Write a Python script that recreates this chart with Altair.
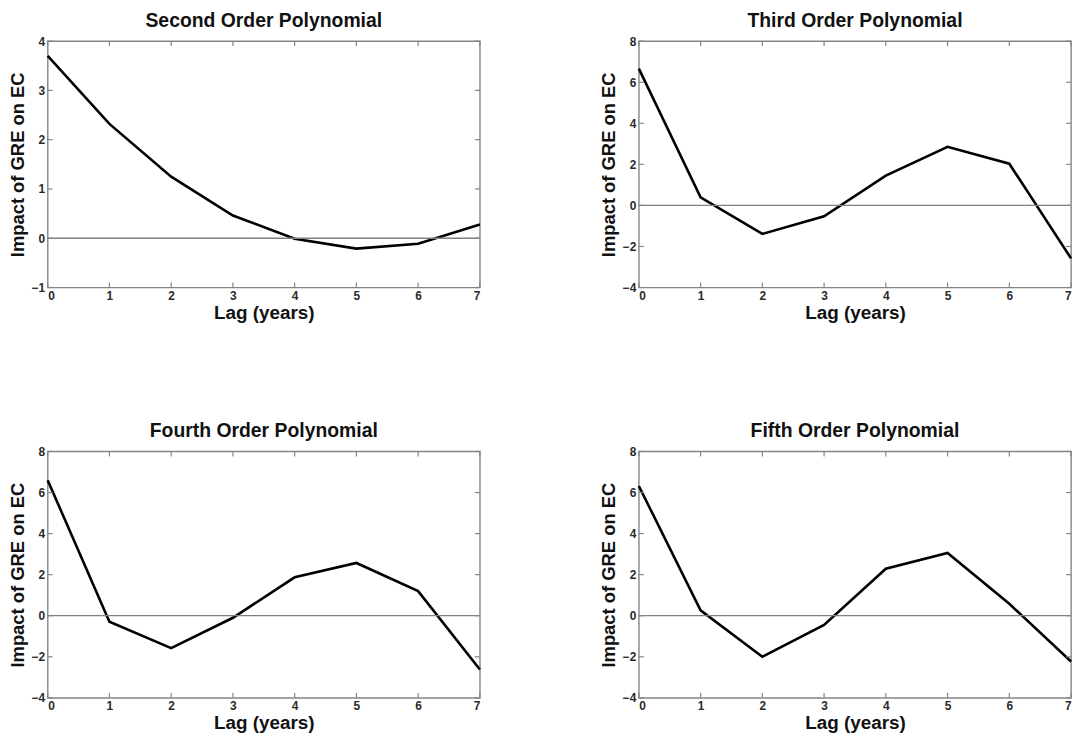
import altair as alt
import pandas as pd

# Lag in years (x) and estimated impact of GRE on EC for each polynomial order
lags = [0, 1, 2, 3, 4, 5, 6, 7]
second_order = [3.70, 2.32, 1.25, 0.46, -0.01, -0.21, -0.11, 0.28]
third_order = [6.66, 0.39, -1.39, -0.53, 1.45, 2.85, 2.03, -2.58]
fourth_order = [6.60, -0.29, -1.58, -0.10, 1.87, 2.57, 1.20, -2.62]
fifth_order = [6.32, 0.26, -2.00, -0.45, 2.29, 3.06, 0.58, -2.23]

titles = ["Second Order Polynomial", "Third Order Polynomial",
          "Fourth Order Polynomial", "Fifth Order Polynomial"]
y_domains = [[-1, 4], [-4, 8], [-4, 8], [-4, 8]]
y_ticks = [[-1, 0, 1, 2, 3, 4], [-4, -2, 0, 2, 4, 6, 8],
           [-4, -2, 0, 2, 4, 6, 8], [-4, -2, 0, 2, 4, 6, 8]]

W, H = 435, 248
FONT = "Liberation Sans"
TICK_LEN = 5
FRAME_COLOR = "#858585"


def panel(values, title, ydom, yt, flush):
    df = pd.DataFrame({"lag": lags, "impact": values})
    x_axis = alt.Axis(values=lags, title="Lag (years)", format="d")
    if flush:
        # keep the last lag label inside the right edge of the page
        x_axis = alt.Axis(values=lags, title="Lag (years)", format="d", labelFlush=True)
    x_enc = alt.X("lag:Q", scale=alt.Scale(domain=[0, 7], nice=False, zero=False),
                  axis=x_axis)
    y_enc = alt.Y("impact:Q", scale=alt.Scale(domain=ydom, nice=False, zero=False),
                  axis=alt.Axis(values=yt, title="Impact of GRE on EC", format="d"))

    line = alt.Chart(df).mark_line(color="black", strokeWidth=2.6).encode(
        x=x_enc, y=y_enc)

    zero = alt.Chart(pd.DataFrame({"impact": [0]})).mark_rule(
        color="#808080", strokeWidth=1.3
    ).encode(y=y_enc)

    # inward-pointing tick marks on all four sides of the box
    xt = pd.DataFrame({"lag": lags})
    ytd = pd.DataFrame({"impact": yt})
    bottom = alt.Chart(xt).mark_rule(color=FRAME_COLOR, strokeWidth=1.2).encode(
        x=x_enc, y=alt.value(H), y2=alt.value(H - TICK_LEN))
    top = alt.Chart(xt).mark_rule(color=FRAME_COLOR, strokeWidth=1.2).encode(
        x=x_enc, y=alt.value(0), y2=alt.value(TICK_LEN))
    left = alt.Chart(ytd).mark_rule(color=FRAME_COLOR, strokeWidth=1.2).encode(
        y=y_enc, x=alt.value(0), x2=alt.value(TICK_LEN))
    right = alt.Chart(ytd).mark_rule(color=FRAME_COLOR, strokeWidth=1.2).encode(
        y=y_enc, x=alt.value(W), x2=alt.value(W - TICK_LEN))

    return alt.layer(line, zero, bottom, top, left, right).properties(
        width=W, height=H,
        title=alt.TitleParams(title, fontSize=19.5, font=FONT, fontWeight="bold",
                              color="#111111", offset=4, anchor="middle"),
    )


series = [second_order, third_order, fourth_order, fifth_order]
panels = [panel(series[i], titles[i], y_domains[i], y_ticks[i], i % 2 == 1)
          for i in range(4)]

row1 = alt.hconcat(panels[0], panels[1], spacing=113)
row2 = alt.hconcat(panels[2], panels[3], spacing=113)

chart = alt.vconcat(row1, row2, spacing=97).properties(
    padding={"left": 7, "top": 7, "right": 0, "bottom": 0},
    background="white",
).configure_view(
    stroke=FRAME_COLOR, strokeWidth=1.4
).configure_axis(
    grid=False, domain=False, ticks=False,
    labelFont=FONT, labelFontWeight="bold", labelFontSize=12, labelColor="#2a2a2a",
    titleFont=FONT, titleFontWeight="bold", titleColor="#111111",
).configure_axisX(
    labelPadding=3, titlePadding=2, titleFontSize=19,
).configure_axisY(
    labelPadding=3, titlePadding=4, titleFontSize=18.5,
)

chart.save("out.html", embed_options={"renderer": "svg", "actions": False})
